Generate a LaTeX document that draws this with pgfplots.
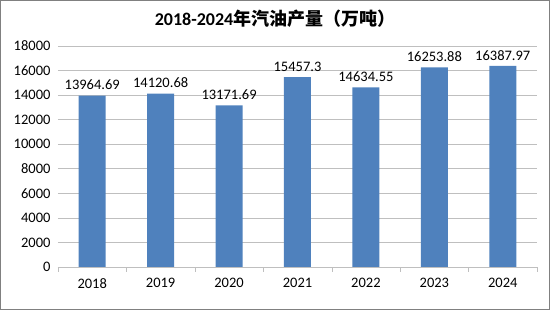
\documentclass[border=0pt]{standalone}
\usepackage{pgfplots}
\pgfplotsset{compat=1.18}
\usepackage{fontspec}
\setmainfont{Carlito}
\newfontfamily\cjk{Noto Sans CJK SC}
\definecolor{barblue}{HTML}{4F81BD}
\definecolor{gridgray}{HTML}{BFBFBF}
\begin{document}
\begin{tikzpicture}[x=1pt,y=1pt]
\begin{axis}[
  scale only axis,
  width=479pt, height=221pt,
  xmin=-0.5, xmax=6.5,
  ymin=0, ymax=18000,
  ytick={0,2000,...,18000},
  scaled y ticks=false,
  yticklabel={\pgfmathprintnumber[fixed,precision=0,1000 sep={}]{\tick}},
  xtick={0,...,6},
  xticklabels={2018,2019,2020,2021,2022,2023,2024},
  minor xtick={-0.5,0.5,...,6.5},
  major tick length=0pt,
  minor tick length=5pt,
  tick align=outside,
  tick style={draw=gridgray},
  axis x line*=bottom,
  axis y line*=left,
  x axis line style={draw=gridgray, -},
  y axis line style={draw=none},
  ymajorgrids,
  grid style={draw=gridgray, line width=0.6pt},
  ticklabel style={font=\fontsize{14.5}{16}\selectfont},
  /pgf/number format/1000 sep={},
  /pgf/number format/assume math mode=true,
  yticklabel style={xshift=-4pt},
  xticklabel style={yshift=-8pt},
  ybar, bar width=27pt,
  nodes near coords,
  point meta=explicit symbolic,
  every node near coord/.append style={font=\fontsize{14.5}{16}\selectfont, black, yshift=2pt},
  clip=false,
]
\addplot[fill=barblue, draw=none] table[x=x, y=y, meta=lab] {
x y lab
0 13964.69 13964.69
1 14120.68 14120.68
2 13171.69 13171.69
3 15457.3 15457.3
4 14634.55 14634.55
5 16253.88 16253.88
6 16387.97 16387.97
};
\end{axis}
\draw[gray, line width=0.8pt] (-57.6,-42.6) rectangle (491.6,266.6);
\node[font=\fontsize{18}{20}\selectfont\bfseries] at (217,248) {2018-2024{\cjk\bfseries 年汽油产量（万吨）}};
\end{tikzpicture}
\end{document}
